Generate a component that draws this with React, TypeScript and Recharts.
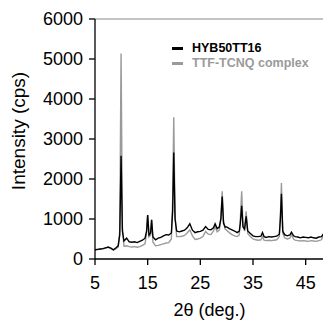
import React from 'react';
import { LineChart, Line, XAxis, YAxis, ReferenceLine } from 'recharts';

const twoTheta = [
  5.0, 5.5, 6.0, 6.5, 7.0, 7.5, 8.0, 8.5, 9.0, 9.4, 9.7, 9.95, 10.2, 10.5, 11.0, 11.5, 12.0, 12.5, 13.0, 13.5,
  14.0, 14.5, 14.8, 15.0, 15.25, 15.55, 15.75, 16.0, 16.5, 17.0, 17.5, 18.0, 18.5, 19.0, 19.5, 19.75, 19.95, 20.2, 20.5, 21.0,
  21.5, 22.0, 22.5, 23.0, 23.5, 24.0, 24.5, 25.0, 25.5, 26.0, 26.5, 27.0, 27.5, 27.8, 28.2, 28.6, 28.9, 29.15, 29.4, 29.7,
  30.0, 30.5, 31.0, 31.5, 32.0, 32.4, 32.6, 32.85, 33.1, 33.4, 33.7, 34.0, 34.5, 35.0, 35.5, 36.0, 36.5, 36.8, 37.1, 37.5,
  38.0, 38.5, 39.0, 39.5, 40.0, 40.2, 40.4, 40.65, 41.0, 41.5, 42.0, 42.3, 42.7, 43.0, 43.5, 44.0, 44.5, 45.0, 45.5, 46.0,
  46.5, 47.0, 47.5, 48.0, 48.5, 48.8, 49.2, 49.6, 50.0,
];

const hyb50tt16 = [
  230, 240, 250, 260, 280, 300, 270, 230, 280, 330, 600, 2580, 700, 450, 520, 430, 420, 430, 410, 440,
  470, 520, 700, 1100, 600, 650, 980, 550, 480, 520, 540, 580, 610, 600, 650, 1200, 2660, 1000, 700, 680,
  700, 720, 780, 880, 720, 660, 680, 690, 720, 810, 740, 730, 780, 880, 760, 800, 1000, 1560, 900, 800,
  800, 760, 730, 700, 660, 700, 900, 1330, 800, 750, 1065, 700, 640, 580, 560, 560, 570, 660, 560, 540,
  560, 550, 560, 570, 620, 1000, 1630, 700, 610, 580, 600, 670, 580, 560, 550, 530, 550, 540, 530, 550,
  530, 520, 550, 560, 650, 580, 530, 550, 520,
];

const ttfTcnq = [
  230, 235, 250, 255, 275, 290, 265, 225, 260, 300, 700, 5140, 800, 320, 330, 310, 300, 310, 295, 310,
  340, 380, 650, 1100, 550, 600, 980, 420, 330, 340, 360, 380, 400, 410, 500, 1500, 3545, 1100, 560, 560,
  570, 590, 650, 730, 580, 490, 500, 520, 560, 690, 620, 610, 700, 810, 680, 720, 1000, 1690, 950, 750,
  720, 660, 610, 580, 560, 600, 1000, 1690, 850, 700, 1190, 640, 560, 500, 480, 470, 480, 560, 470, 460,
  470, 460, 470, 480, 560, 1100, 1900, 650, 530, 500, 520, 610, 500, 470, 460, 450, 460, 450, 440, 460,
  450, 440, 460, 480, 640, 520, 450, 460, 440,
];

const xTicks = [5, 15, 25, 35, 45];
const yTicks = [0, 1000, 2000, 3000, 4000, 5000, 6000];

const seriesNames = ['HYB50TT16', 'TTF-TCNQ complex'];
const seriesColors = ['#000000', '#9a9a9a'];

const data = twoTheta.map((x, i) => ({ x, hyb: hyb50tt16[i], ttf: ttfTcnq[i] }));

const FONT = '"Liberation Sans", Arial, sans-serif';

const LegendBox = () => (
  <div style={{ position: 'absolute', left: 164, top: 33, fontFamily: FONT, fontWeight: 'bold', fontSize: 12.5, lineHeight: '15px' }}>
    {seriesNames.map((name, i) => (
      <div key={name} style={{ display: 'flex', alignItems: 'center', height: 15, color: seriesColors[i], whiteSpace: 'nowrap' }}>
        <span style={{ display: 'inline-block', width: 11, height: 3, background: seriesColors[i], marginRight: 9 }} />
        <span>{name}</span>
      </div>
    ))}
  </div>
);

const YLabel = (props: any) => {
  const vb = props.viewBox || { x: 0, y: 0, width: 0, height: 0 };
  const cx = vb.x + 10;
  const cy = vb.y + vb.height / 2 - 8;
  return (
    <text x={cx} y={cy} transform={`rotate(-90, ${cx}, ${cy})`} textAnchor="middle" dominantBaseline="central"
      fontFamily={FONT} fontSize={19} fill="#000">
      Intensity (cps)
    </text>
  );
};

const XLabel = (props: any) => {
  const vb = props.viewBox || { x: 0, y: 0, width: 0, height: 0 };
  const cx = vb.x + vb.width / 2 - 4;
  const cy = vb.y + 51;
  return (
    <text x={cx} y={cy} textAnchor="middle" dominantBaseline="central" fontFamily={FONT} fontSize={18} fill="#000">
      2θ (deg.)
    </text>
  );
};

export default function App() {
  return (
    <div style={{ position: 'relative', width: 323, height: 313, overflow: 'hidden' }}>
      <LineChart width={325} height={313} data={data} margin={{ top: 11, right: 1, bottom: 0, left: 0 }}>
        <ReferenceLine y={6000} stroke="#b0b0b0" strokeWidth={1.5} ifOverflow="visible" />
        <XAxis
          dataKey="x"
          type="number"
          domain={[5, 50]}
          ticks={xTicks}
          allowDataOverflow
          height={62}
          tickSize={6}
          tickMargin={11}
          axisLine={{ stroke: '#000', strokeWidth: 1.3 }}
          tickLine={{ stroke: '#000', strokeWidth: 1.3 }}
          tick={{ fill: '#000', fontSize: 18, fontFamily: FONT }}
          label={<XLabel />}
        />
        <YAxis
          type="number"
          domain={[0, 6000]}
          ticks={yTicks}
          width={87}
          tickSize={6}
          tickMargin={6}
          axisLine={{ stroke: '#000', strokeWidth: 1.3 }}
          tickLine={{ stroke: '#000', strokeWidth: 1.3 }}
          tick={{ fill: '#000', fontSize: 18, fontFamily: FONT }}
          label={<YLabel />}
        />
        <Line type="linear" dataKey="ttf" name={seriesNames[1]} stroke={seriesColors[1]} strokeWidth={1.4} dot={false} isAnimationActive={false} />
        <Line type="linear" dataKey="hyb" name={seriesNames[0]} stroke={seriesColors[0]} strokeWidth={1.4} dot={false} isAnimationActive={false} />
      </LineChart>
      <LegendBox />
    </div>
  );
}
